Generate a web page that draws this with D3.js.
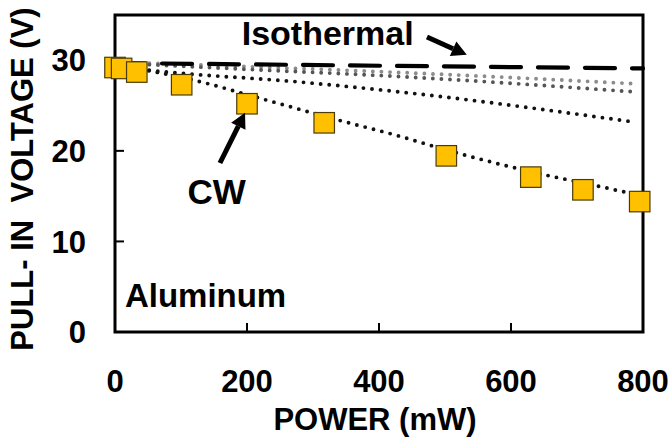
<!DOCTYPE html>
<html><head><meta charset="utf-8">
<script src="https://cdn.jsdelivr.net/npm/d3@7"></script>
<style>
html,body{margin:0;padding:0;background:#fff;}
text{font-family:"Liberation Sans",Arial,sans-serif;font-weight:bold;fill:#000;}
</style></head>
<body><svg id="c" width="670" height="443"></svg>
<script>
// ---- data ----
const xTicks = [0, 200, 400, 600, 800];
const yTicks = [0, 10, 20, 30];
const cwPower = [0, 10, 33, 101, 200, 317, 502, 630, 709, 795];
const cwVoltage = [29.2, 29.1, 28.7, 27.3, 25.2, 23.1, 19.45, 17.1, 15.7, 14.4];
const isoPower = [0, 800];
const isoVoltage = [29.7, 29.1];
const lightPower = [0, 200, 432, 790];
const lightVoltage = [29.8, 29.3, 28.65, 27.4];
const darkPower = [0, 200, 432, 790];
const darkVoltage = [29.7, 29.0, 28.2, 26.5];
const midPower = [0, 79, 280, 432, 785];
const midVoltage = [29.3, 28.7, 27.6, 26.5, 23.2];
const fitPower = [0, 120, 220, 333, 432, 502, 648, 726, 800];
const fitVoltage = [29.5, 27.8, 25.8, 23.5, 21.6, 20.1, 17.4, 16.2, 15.0];

const svg = d3.select("#c");
const x = d3.scaleLinear().domain([0, 800]).range([115, 643]);
const y = d3.scaleLinear().domain([0, 35]).range([332, 15]);

// lines
const line = d3.line().x(d => x(d[0])).y(d => y(d[1])).curve(d3.curveMonotoneX);
const zip = (a, b) => a.map((v, i) => [v, b[i]]);

function dotted(p, v, color) {
  svg.append("path").attr("d", line(zip(p, v))).attr("fill", "none")
    .attr("stroke", color).attr("stroke-width", 3.9).attr("stroke-linecap", "round")
    .attr("stroke-dasharray", "0 8.6");
}
dotted(lightPower, lightVoltage, "#8c8c8c");
dotted(darkPower, darkVoltage, "#555");
dotted(midPower, midVoltage, "#111");
dotted(fitPower, fitVoltage, "#111");

svg.append("path").attr("d", line(zip(isoPower, isoVoltage))).attr("fill", "none")
  .attr("stroke", "#000").attr("stroke-width", 4.2).attr("stroke-linecap", "round")
  .attr("stroke-dasharray", "30 17");

// frame
svg.append("rect").attr("x", x(0)).attr("y", y(35)).attr("width", x(800) - x(0))
  .attr("height", y(0) - y(35)).attr("fill", "none").attr("stroke", "#000").attr("stroke-width", 3);

// ticks (inside)
svg.append("g").selectAll("line").data(yTicks.filter(d => d > 0)).join("line")
  .attr("x1", x(0)).attr("x2", x(0) + 9).attr("y1", d => y(d)).attr("y2", d => y(d))
  .attr("stroke", "#000").attr("stroke-width", 2);
svg.append("g").selectAll("line").data(xTicks.filter(d => d > 0 && d < 800)).join("line")
  .attr("x1", d => x(d)).attr("x2", d => x(d)).attr("y1", y(0)).attr("y2", y(0) - 9)
  .attr("stroke", "#000").attr("stroke-width", 2);

// squares
const s = 20.5;
svg.append("g").selectAll("rect").data(zip(cwPower, cwVoltage)).join("rect")
  .attr("x", d => x(d[0]) - s / 2).attr("y", d => y(d[1]) - s / 2)
  .attr("width", s).attr("height", s).attr("fill", "#FFC000")
  .attr("stroke", "#4a3c0a").attr("stroke-width", 1.2);

// tick labels
svg.append("g").selectAll("text").data(yTicks).join("text")
  .attr("x", 86).attr("y", d => y(d)).attr("dy", "0.36em").attr("text-anchor", "end")
  .attr("font-size", 31).text(d => d);
svg.append("g").selectAll("text").data(xTicks).join("text")
  .attr("x", d => x(d)).attr("y", 392).attr("text-anchor", "middle")
  .attr("font-size", 31).text(d => d);

// axis titles
svg.append("text").attr("x", (x(0) + x(800)) / 2 - 4).attr("y", 430).attr("text-anchor", "middle")
  .attr("font-size", 31).text("POWER (mW)");
svg.append("text").attr("transform", "translate(33,179) rotate(-90)").attr("text-anchor", "middle")
  .attr("font-size", 31).attr("xml:space", "preserve").style("white-space", "pre").text("PULL- IN  VOLTAGE (V)");

// annotations
svg.append("text").attr("x", x(192)).attr("y", y(31.7)).attr("font-size", 34).text("Isothermal");
svg.append("text").attr("x", x(110)).attr("y", y(14.1)).attr("font-size", 35).text("CW");
svg.append("text").attr("x", x(15)).attr("y", y(2.76)).attr("font-size", 33).text("Aluminum");

function arrow(p0, v0, p1, v1) {
  const x0 = x(p0), y0 = y(v0), x1 = x(p1), y1 = y(v1);
  const ang = Math.atan2(y1 - y0, x1 - x0);
  const L = 15, W = 8;
  const bx = x1 - L * Math.cos(ang), by = y1 - L * Math.sin(ang);
  svg.append("line").attr("x1", x0).attr("y1", y0).attr("x2", bx).attr("y2", by)
    .attr("stroke", "#000").attr("stroke-width", 5);
  const px = -Math.sin(ang) * W, py = Math.cos(ang) * W;
  svg.append("polygon").attr("points",
    [[x1, y1], [bx + px, by + py], [bx - px, by - py]].map(q => q.join(",")).join(" "))
    .attr("fill", "#000");
}
arrow(472.7, 32.57, 533, 30.6);
arrow(159, 18.66, 197, 24.2);
</script></body></html>
